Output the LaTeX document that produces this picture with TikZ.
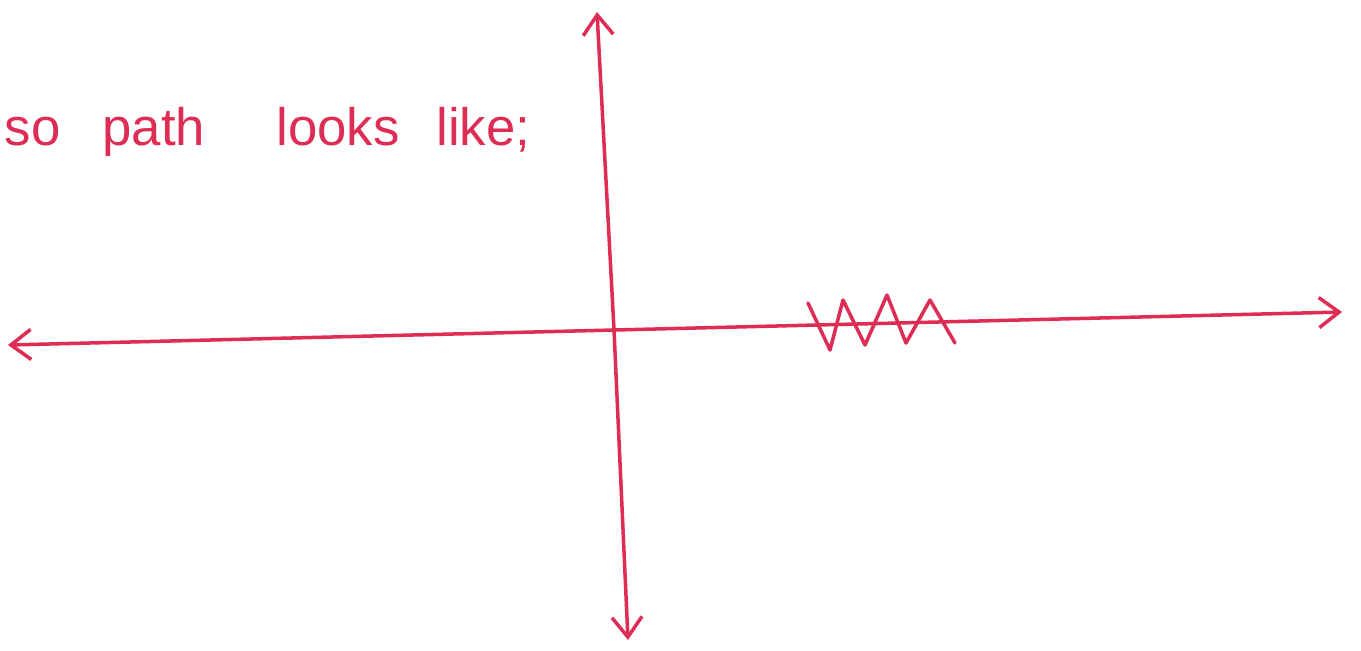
\documentclass[tikz,border=0pt]{standalone}
\usepackage{fontspec}
\setmainfont{Liberation Sans}
\usepackage{tikz}
\usetikzlibrary{arrows.meta, positioning, calc}
\definecolor{inkred}{RGB}{222,45,85}

\begin{document}
\begin{tikzpicture}[x=0.01cm, y=-0.01cm, font=\fontsize{15}{18}\selectfont,
    pen/.style={draw=inkred, line width=1pt, line cap=round, line join=round},
    axis/.style={pen, -{Straight Barb[length=2mm, width=3mm]}}]
    \useasboundingbox (0,0) rectangle (1361,650);
    % axes
    \coordinate (xl) at (8,345);
    \coordinate (xr) at (1342,312);
    \coordinate (yt) at (597,12);
    \coordinate (yb) at (628,640);
    \coordinate (o) at (614,330);
    \draw[axis] (o) -- (xr);
    \draw[axis] (o) -- (xl);
    \draw[axis] (o) -- (yt);
    \draw[axis] (o) -- (yb);
    % the zigzag path
    \draw[pen] (808,303) -- (830,350) -- (843,300) -- (865,345) -- (887,295)
        -- (906,343) -- (930,300) -- (955,343);
    \node[text=inkred, anchor=base west, inner sep=0pt] (note) at (4,145)
        {so\hspace{0.8em}path\hspace{1.35em}looks\hspace{0.7em}like;};
\end{tikzpicture}
\end{document}
